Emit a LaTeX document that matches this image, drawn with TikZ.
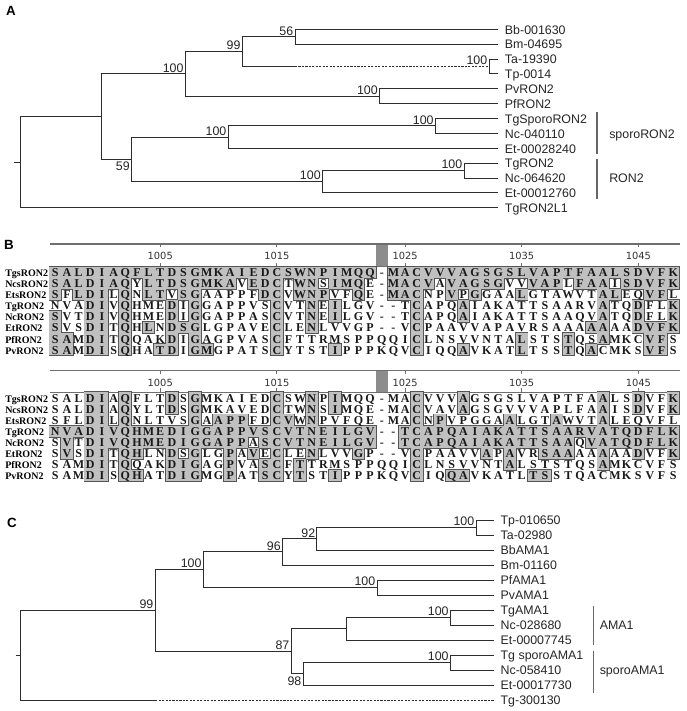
\documentclass[tikz,border=0pt]{standalone}
\usepackage{fontspec}
\setmainfont{Liberation Sans}
\newfontfamily\seqfont{Liberation Serif}
\newfontfamily\numfont{DejaVu Sans}
\usepackage{xstring}
\usetikzlibrary{calc}

\definecolor{shadecol}{RGB}{192,192,192}
\definecolor{edgecol}{RGB}{85,85,85}
\definecolor{treeline}{RGB}{45,45,45}
\definecolor{rulecol}{RGB}{110,110,110}
\definecolor{barcol}{RGB}{140,140,140}

\expandafter\def\csname sq1\endcsname{SALDIAQFLTDSGMKAIEDCSWNPIMQQ-MACVVVAGSGSLVAPTFAALSDVFK}
\expandafter\def\csname sq2\endcsname{SALDIAQYLTDSGMKAVEDCTWNSIMQE-MACVAVAGSGVVVAPLFAAISDVFK}
\expandafter\def\csname sq3\endcsname{SFLDILQNLTVSGAAPPFDCVWNPVFQE-MACNPVPGGAALGTAWVTALEQVFL}
\expandafter\def\csname sq4\endcsname{NVADIVQHMEDIGGAPPVSCVTNEILGV--TCAPQAIAKATTSAARVATQDFLK}
\expandafter\def\csname sq5\endcsname{SVTDIVQHMEDIGGAPPASCVTNEILGV--TCAPQAIAKATTSAAQVATQDFLK}
\expandafter\def\csname sq6\endcsname{SVSDITQHLNDSGLGPAVECLENLVVGP--VCPAAVVAPAVRSAAAAAAADVFK}
\expandafter\def\csname sq7\endcsname{SAMDITQQAKDIGAGPVASCFTTRMSPPQQICLNSVVNTALSTSTQSAMKCVFS}
\expandafter\def\csname sq8\endcsname{SAMDISQHATDIGMGPATSCYTSTIPPPKQVCIQQAVKATLTSSTQACMKSVFS}
\expandafter\def\csname nm1\endcsname{TgsRON2}
\expandafter\def\csname nm2\endcsname{NcsRON2}
\expandafter\def\csname nm3\endcsname{EtsRON2}
\expandafter\def\csname nm4\endcsname{TgRON2}
\expandafter\def\csname nm5\endcsname{NcRON2}
\expandafter\def\csname nm6\endcsname{EtRON2}
\expandafter\def\csname nm7\endcsname{PfRON2}
\expandafter\def\csname nm8\endcsname{PvRON2}

\newif\ifshaded
\def\dashch{-}
\newcommand\testshade[3]{%
  \StrChar{\csname sq#1\endcsname}{#2}[\curch]%
  \StrChar{\csname sq#3\endcsname}{#2}[\refch]%
  \shadedfalse
  \ifx\curch\refch\ifx\curch\dashch\else\shadedtrue\fi\fi
}

% #1 ruler top y, #2 row-1 centre y, #3 reference row, #4 name prefix
\newcommand\alignblock[4]{%
  \pgfmathsetmacro\rtop{#1}%
  \pgfmathsetmacro\rbot{#2-5.525}%
  \fill[barcol] (375.95,\rtop) rectangle (387.61,\rbot);
  \draw[rulecol, line width=0.9pt] (49.5,\rtop) -- (679.5,\rtop);
  \draw[rulecol, line width=0.7pt] (49.5,\rbot) -- (679.5,\rbot);
  \foreach \c/\lab in {10/1005,20/1015,31/1025,41/1035,51/1045}{%
    \draw[rulecol, line width=0.8pt] ({55.3+(\c-1)*11.66},\rtop) -- ++(0,3.3);
    \draw[rulecol, line width=0.8pt] ({55.3+(\c-1)*11.66},\rbot) -- ++(0,-4);
    \node[rnum] (#4-t\c) at ({55.3+(\c-1)*11.66},{\rtop+12}) {\lab};
  }
  \foreach \r in {1,...,8}{\foreach \c in {1,...,54}{%
    \testshade{\r}{\c}{#3}%
    \ifshaded
      \draw[draw=edgecol, line width=1.4pt] ({49.47+(\c-1)*11.66},{#2-5.525+(\r-1)*11.05}) rectangle ++(11.66,11.05);
    \fi
  }}
  \foreach \r in {1,...,8}{\foreach \c in {1,...,54}{%
    \testshade{\r}{\c}{#3}%
    \ifshaded
      \fill[shadecol] ({49.47+(\c-1)*11.66},{#2-5.525+(\r-1)*11.05}) rectangle ++(11.66,11.05);
    \fi
  }}
  \foreach \r in {1,...,8}{%
    \node[seqname] (#4-n\r) at (5,{#2+(\r-1)*11.05}) {\csname nm\r\endcsname};
    \foreach \c in {1,...,54}{%
      \StrChar{\csname sq\r\endcsname}{\c}[\curch]%
      \node[seqch] (#4-\r-\c) at ({55.3+(\c-1)*11.66},{#2+(\r-1)*11.05}) {\curch};
    }
  }
}

\begin{document}
\begin{tikzpicture}[x=0.75pt,y=-0.75pt,
  tl/.style={draw=treeline, line width=0.75pt},
  dl/.style={draw=treeline, line width=0.75pt, dash pattern=on 1.6pt off 1pt},
  leaf/.style={anchor=west, inner xsep=4.8pt, inner ysep=0pt, text height=0.72em, text depth=0pt, font=\fontsize{9.3}{10}\selectfont, text=black!85},
  boot/.style={font=\fontsize{9.3}{10}\selectfont, inner sep=1.1pt, text height=0.72em, text depth=0pt, text=black!85},
  brk/.style={draw=black!60, line width=0.8pt},
  grp/.style={anchor=west, inner sep=0pt, text height=0.72em, text depth=0pt, font=\fontsize{9.3}{10}\selectfont, text=black!85},
  panel/.style={font=\bfseries\fontsize{10}{12}\selectfont, inner sep=0pt},
  seqch/.style={font=\seqfont\bfseries\fontsize{9}{10}\selectfont, inner sep=0pt, text height=0.66em, text depth=0pt, text=black!90},
  seqname/.style={anchor=west, font=\seqfont\bfseries\fontsize{7.5}{8}\selectfont, inner sep=0pt, text height=0.66em, text depth=0pt},
  rnum/.style={font=\numfont\fontsize{7.4}{8}\selectfont, text=black!80, inner sep=0pt}
]
\useasboundingbox (0,0) rectangle (686,711);
\fill[white] (0,0) rectangle (686,711);

% ---------------- Panel A ----------------
\node[panel] (pA) at (11,11) {A};
\node[leaf] (a-l1) at (498.3,29.3) {Bb-001630};
\node[leaf] (a-l2) at (498.3,44.17) {Bm-04695};
\node[leaf] (a-l3) at (498.3,59.04) {Ta-19390};
\node[leaf] (a-l4) at (498.3,73.91) {Tp-0014};
\node[leaf] (a-l5) at (498.3,88.78) {PvRON2};
\node[leaf] (a-l6) at (498.3,103.65) {PfRON2};
\node[leaf] (a-l7) at (498.3,118.52) {TgSporoRON2};
\node[leaf] (a-l8) at (498.3,133.39) {Nc-040110};
\node[leaf] (a-l9) at (498.3,148.26) {Et-00028240};
\node[leaf] (a-l10) at (498.3,163.13) {TgRON2};
\node[leaf] (a-l11) at (498.3,178.0) {Nc-064620};
\node[leaf] (a-l12) at (498.3,192.87) {Et-00012760};
\node[leaf] (a-l13) at (498.3,207.74) {TgRON2L1};

\coordinate (a-stub) at (13.6,162.2);
\coordinate (a-root) at (20,162.2);
\coordinate (a-n1) at (101.5,116.66);
\coordinate (a-n2) at (185.2,73.91);
\coordinate (a-n3) at (131.5,159.41);
\coordinate (a-n4) at (242.2,51.61);
\coordinate (a-n5) at (379.5,96.22);
\coordinate (a-n6) at (295,36.74);
\coordinate (a-n7) at (489,66.48);
\coordinate (a-d7) at (295,66.48);
\coordinate (a-n8) at (228.1,137.11);
\coordinate (a-n9) at (322.4,181.72);
\coordinate (a-n10) at (435.3,125.96);
\coordinate (a-n11) at (464,170.57);

\draw[tl] (a-stub) -- (a-root);
\draw[tl] (a-root) |- (a-n1);
\draw[tl] (a-root) |- (a-l13.west);
\draw[tl] (a-n1) |- (a-n2);
\draw[tl] (a-n1) |- (a-n3);
\draw[tl] (a-n2) |- (a-n4);
\draw[tl] (a-n2) |- (a-n5);
\draw[tl] (a-n4) |- (a-n6);
\draw[tl] (a-n4) |- (a-d7);
\draw[dl] (a-d7) -- (a-n7);
\draw[tl] (a-n6) |- (a-l1.west);
\draw[tl] (a-n6) |- (a-l2.west);
\draw[tl] (a-n7) |- (a-l3.west);
\draw[tl] (a-n7) |- (a-l4.west);
\draw[tl] (a-n5) |- (a-l5.west);
\draw[tl] (a-n5) |- (a-l6.west);
\draw[tl] (a-n3) |- (a-n8);
\draw[tl] (a-n3) |- (a-n9);
\draw[tl] (a-n8) |- (a-n10);
\draw[tl] (a-n8) |- (a-l9.west);
\draw[tl] (a-n10) |- (a-l7.west);
\draw[tl] (a-n10) |- (a-l8.west);
\draw[tl] (a-n9) |- (a-n11);
\draw[tl] (a-n9) |- (a-l12.west);
\draw[tl] (a-n11) |- (a-l10.west);
\draw[tl] (a-n11) |- (a-l11.west);

\node[boot, anchor=south east] (a-b2) at (a-n2) {100};
\node[boot, anchor=north east] (a-b3) at (a-n3) {59};
\node[boot, anchor=south east] (a-b4) at (a-n4) {99};
\node[boot, anchor=south east] (a-b5) at (a-n5) {100};
\node[boot, anchor=south east] (a-b6) at (a-n6) {56};
\node[boot, anchor=south east] (a-b7) at (a-n7) {100};
\node[boot, anchor=south east] (a-b8) at (a-n8) {100};
\node[boot, anchor=south east] (a-b9) at (a-n9) {100};
\node[boot, anchor=south east] (a-b10) at (a-n10) {100};
\node[boot, anchor=south east] (a-b11) at (a-n11) {100};

\coordinate (a-s1) at (597,111.7);
\coordinate (a-s2) at (597,154);
\coordinate (a-r1) at (597,159.3);
\coordinate (a-r2) at (597,199.3);
\draw[brk] (a-s1) -- (a-s2);
\draw[brk] (a-r1) -- (a-r2);
\node[grp] (a-g1) at (609,133.39) {sporoRON2};
\node[grp] (a-g2) at (609,178.0) {RON2};

% ---------------- Panel B ----------------
\node[panel] (pB) at (9,245) {B};
\alignblock{244}{272.3}{1}{ba}
\alignblock{370.6}{397.9}{4}{bb}

% ---------------- Panel C ----------------
\node[panel] (pC) at (12,523) {C};
\node[leaf] (c-l1) at (494,520) {Tp-010650};
\node[leaf] (c-l2) at (494,535) {Ta-02980};
\node[leaf] (c-l3) at (494,550) {BbAMA1};
\node[leaf] (c-l4) at (494,565) {Bm-01160};
\node[leaf] (c-l5) at (494,580) {PfAMA1};
\node[leaf] (c-l6) at (494,595) {PvAMA1};
\node[leaf] (c-l7) at (494,610) {TgAMA1};
\node[leaf] (c-l8) at (494,625) {Nc-028680};
\node[leaf] (c-l9) at (494,640) {Et-00007745};
\node[leaf] (c-l10) at (494,655) {Tg sporoAMA1};
\node[leaf] (c-l11) at (494,670) {Nc-058410};
\node[leaf] (c-l12) at (494,685) {Et-00017730};
\node[leaf] (c-l13) at (494,700) {Tg-300130};

\coordinate (c-stub) at (15.7,655.23);
\coordinate (c-root) at (20,655.23);
\coordinate (c-n1) at (155.1,610.47);
\coordinate (c-d13) at (155.1,700);
\coordinate (c-n2) at (203.2,569.69);
\coordinate (c-n3) at (291.1,651.25);
\coordinate (c-n4) at (282.5,551.875);
\coordinate (c-n5) at (377,587.5);
\coordinate (c-n6) at (316.9,538.75);
\coordinate (c-n7) at (476,527.5);
\coordinate (c-n8) at (346,628.75);
\coordinate (c-n9) at (303.1,673.75);
\coordinate (c-n10) at (450.3,617.5);
\coordinate (c-n11) at (450.3,662.5);

\draw[tl] (c-stub) -- (c-root);
\draw[tl] (c-root) |- (c-n1);
\draw[tl] (c-root) |- (c-d13);
\draw[dl] (c-d13) -- (c-l13.west);
\draw[tl] (c-n1) |- (c-n2);
\draw[tl] (c-n1) |- (c-n3);
\draw[tl] (c-n2) |- (c-n4);
\draw[tl] (c-n2) |- (c-n5);
\draw[tl] (c-n4) |- (c-n6);
\draw[tl] (c-n4) |- (c-l4.west);
\draw[tl] (c-n6) |- (c-n7);
\draw[tl] (c-n6) |- (c-l3.west);
\draw[tl] (c-n7) |- (c-l1.west);
\draw[tl] (c-n7) |- (c-l2.west);
\draw[tl] (c-n5) |- (c-l5.west);
\draw[tl] (c-n5) |- (c-l6.west);
\draw[tl] (c-n3) |- (c-n8);
\draw[tl] (c-n3) |- (c-n9);
\draw[tl] (c-n8) |- (c-n10);
\draw[tl] (c-n8) |- (c-l9.west);
\draw[tl] (c-n10) |- (c-l7.west);
\draw[tl] (c-n10) |- (c-l8.west);
\draw[tl] (c-n9) |- (c-n11);
\draw[tl] (c-n9) |- (c-l12.west);
\draw[tl] (c-n11) |- (c-l10.west);
\draw[tl] (c-n11) |- (c-l11.west);

\node[boot, anchor=south east] (c-b1) at (c-n1) {99};
\node[boot, anchor=south east] (c-b2) at (c-n2) {100};
\node[boot, anchor=south east] (c-b3) at (c-n3) {87};
\node[boot, anchor=south east] (c-b4) at (c-n4) {96};
\node[boot, anchor=south east] (c-b5) at (c-n5) {100};
\node[boot, anchor=south east] (c-b6) at (c-n6) {92};
\node[boot, anchor=south east] (c-b7) at (c-n7) {100};
\node[boot, anchor=north east] (c-b9) at (c-n9) {98};
\node[boot, anchor=south east] (c-b10) at (c-n10) {100};
\node[boot, anchor=south east] (c-b11) at (c-n11) {100};

\coordinate (c-a1) at (593.6,606);
\coordinate (c-a2) at (593.6,645);
\coordinate (c-s1) at (593.6,650.7);
\coordinate (c-s2) at (593.6,692.7);
\draw[brk] (c-a1) -- (c-a2);
\draw[brk] (c-s1) -- (c-s2);
\node[grp] (c-g1) at (599.5,625) {AMA1};
\node[grp] (c-g2) at (599.5,670) {sporoAMA1};
\end{tikzpicture}
\end{document}
